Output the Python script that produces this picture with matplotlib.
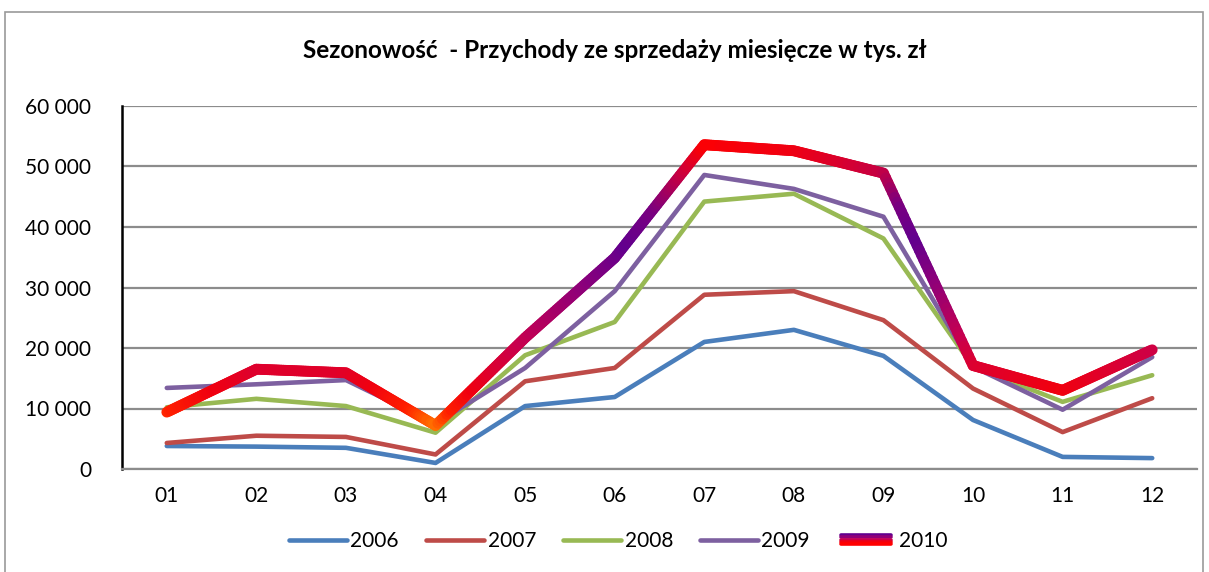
import numpy as np
import matplotlib
matplotlib.use("Agg")
import matplotlib.pyplot as plt
from matplotlib.collections import LineCollection
from matplotlib.colors import LinearSegmentedColormap, Normalize
from matplotlib.legend_handler import HandlerBase
from matplotlib.lines import Line2D
from matplotlib.patches import Rectangle
from matplotlib.ticker import FuncFormatter

plt.rcParams['font.family'] = ['Lato', 'DejaVu Sans']

months = ['01', '02', '03', '04', '05', '06', '07', '08', '09', '10', '11', '12']
s2006 = [3800, 3700, 3500, 1000, 10400, 11900, 21000, 23000, 18700, 8100, 2000, 1800]
s2007 = [4300, 5500, 5300, 2400, 14500, 16700, 28800, 29400, 24600, 13300, 6100, 11700]
s2008 = [10200, 11600, 10400, 6000, 18800, 24300, 44200, 45500, 38100, 16900, 11100, 15500]
s2009 = [13400, 14000, 14700, 7500, 16700, 29400, 48600, 46300, 41700, 16900, 9800, 18500]
s2010 = [9400, 16500, 15900, 7200, 21700, 34900, 53600, 52600, 48900, 17100, 13000, 19700]

colors = {'2006': '#4A7EBB', '2007': '#BE4B48', '2008': '#98B954', '2009': '#7D60A0'}

# colour of the 2010 line depends on its value (Excel gradient fill)
grad = LinearSegmentedColormap.from_list('g2010', [
    (0.00, '#FF9000'),
    (0.12, '#FF7000'),
    (0.16, '#FF2000'),
    (0.22, '#F00010'),
    (0.28, '#DC0030'),
    (0.35, '#C8004E'),
    (0.50, '#900078'),
    (0.62, '#62008E'),
    (0.72, '#7A0080'),
    (0.82, '#C80040'),
    (0.90, '#FF0000'),
    (1.00, '#FF0000'),
])
norm = Normalize(0, 60000)

fig = plt.figure(figsize=(12.09, 5.72), dpi=100)
fig.patches.append(Rectangle((5 / 1209, -0.1), 1198 / 1209, 1.1 - 12 / 572,
                             transform=fig.transFigure, fill=False,
                             edgecolor='#9A9A9A', linewidth=1.2))
ax = fig.add_axes([122 / 1209, 103 / 572, 1075 / 1209, 363 / 572])

x = np.arange(1, 13)
for name, vals in [('2006', s2006), ('2007', s2007), ('2008', s2008), ('2009', s2009)]:
    ax.plot(x, vals, color=colors[name], linewidth=3.3, solid_capstyle='round',
            solid_joinstyle='round', label=name, zorder=3)

# gradient line for 2010
xs, ys = [], []
for i in range(len(x) - 1):
    t = np.linspace(0, 1, 40, endpoint=False)
    xs.extend(x[i] + t * (x[i + 1] - x[i]))
    ys.extend(s2010[i] + t * (s2010[i + 1] - s2010[i]))
xs.append(x[-1])
ys.append(s2010[-1])
pts = np.column_stack([xs, ys]).reshape(-1, 1, 2)
segs = np.concatenate([pts[:-1], pts[1:]], axis=1)
mid = (np.array(ys[:-1]) + np.array(ys[1:])) / 2
lc = LineCollection(segs, colors=grad(norm(mid)), linewidths=7.8,
                    capstyle='round', joinstyle='round', zorder=4)
ax.add_collection(lc)

ax.set_xlim(0.5, 12.5)
ax.set_ylim(0, 60000)
ax.set_xticks(x)
ax.set_xticklabels(months)
ax.set_yticks(np.arange(0, 60001, 10000))
ax.yaxis.set_major_formatter(FuncFormatter(lambda v, p: f'{int(v):,}'.replace(',', ' ')))
ax.tick_params(axis='both', length=0, labelsize=15, colors='black')
ax.tick_params(axis='y', pad=22)
ax.tick_params(axis='x', pad=12)
ax.grid(axis='y', color='#8C8C8C', linewidth=1.6)
ax.set_axisbelow(True)
for side in ['top', 'right']:
    ax.spines[side].set_visible(False)
ax.spines['left'].set_color('black')
ax.spines['left'].set_linewidth(1.8)
ax.spines['bottom'].set_color('#8C8C8C')
ax.spines['bottom'].set_linewidth(1.6)

fig.text(615 / 1209, 1 - 50 / 572, 'Sezonowość  - Przychody ze sprzedaży miesięcze w tys. zł',
         ha='center', va='center', fontsize=17.5, fontweight='bold')


class HandlerGradient(HandlerBase):
    def create_artists(self, legend, orig_handle, xdescent, ydescent, width, height, fontsize, trans):
        arts = []
        cols = ['#62008E', '#900078', '#C8004E', '#F00010', '#FF0000']
        n = len(cols)
        for k, c in enumerate(cols):
            yy = height / 2 + (n / 2 - k - 0.5) * 1.6 - ydescent
            ln = Line2D([-xdescent + 3, width - xdescent - 3], [yy, yy], color=c,
                        linewidth=2.6, solid_capstyle='round', transform=trans)
            arts.append(ln)
        return arts


handles, labels = ax.get_legend_handles_labels()
g_handle = Line2D([], [], color='#C8004E')
handles.append(g_handle)
labels.append('2010')
fig.legend(handles, labels, loc='center', bbox_to_anchor=(618 / 1209, 1 - 541 / 572), ncol=5,
           frameon=False, fontsize=15, handlelength=2.8, handletextpad=0.15,
           columnspacing=1.3, handler_map={g_handle: HandlerGradient()})

fig.savefig('out.png', dpi=100)
